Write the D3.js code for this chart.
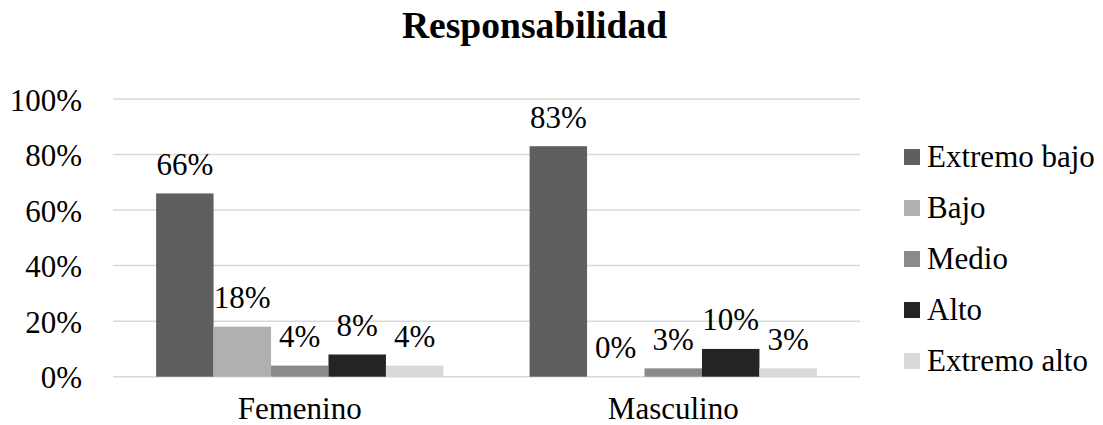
<!DOCTYPE html>
<html><head><meta charset="utf-8">
<script src="https://cdn.jsdelivr.net/npm/d3@7"></script>
<style>body{margin:0;background:#fff}svg{display:block}</style>
</head><body><svg id="c" width="1103" height="425" font-family="'Liberation Serif', 'Times New Roman', Tinos, serif"></svg>
<script>
const categories = ["Femenino", "Masculino"];
const seriesNames = ["Extremo bajo", "Bajo", "Medio", "Alto", "Extremo alto"];
const extremoBajo = [66, 83];
const bajo = [18, 0];
const medio = [4, 3];
const alto = [8, 10];
const extremoAlto = [4, 3];
const seriesColors = ["#5f5f5f", "#b0b0b0", "#8a8a8a", "#242424", "#d9d9d9"];
const yTicks = [0, 20, 40, 60, 80, 100];
const title = "Responsabilidad";

const seriesValues = [extremoBajo, bajo, medio, alto, extremoAlto];
const svg = d3.select("#c");
const m = {left: 113, right: 860, top: 99, bottom: 376.7};

const x0 = d3.scaleBand().domain(categories).range([m.left, m.right]).padding(0);
const barW = x0.bandwidth() / 6.5;
const x1 = d3.scaleBand().domain(seriesNames).range([0.75 * barW, 5.75 * barW]).padding(0);
const y = d3.scaleLinear().domain([0, 100]).range([m.bottom, m.top]);

svg.append("text").attr("x", 534.5).attr("y", 38).attr("text-anchor", "middle")
  .style("font-size", "37.6px").style("font-weight", "bold").attr("fill", "#000").text(title);

// gridlines
svg.append("g").selectAll("line").data(yTicks).join("line")
  .attr("x1", m.left).attr("x2", m.right)
  .attr("y1", d => y(d)).attr("y2", d => y(d))
  .attr("stroke", "#d9d9d9").attr("stroke-width", 1.5);

// y axis labels
svg.append("g").selectAll("text").data(yTicks).join("text")
  .attr("x", 82).attr("y", d => y(d) + 11.5).attr("text-anchor", "end")
  .style("font-size", "31px").text(d => d + "%");

// bars + value labels
const groups = svg.append("g").selectAll("g").data(categories).join("g")
  .attr("transform", c => `translate(${x0(c)},0)`);
groups.each(function(c, ci) {
  const g = d3.select(this);
  const data = seriesNames.map((s, si) => ({s, si, v: seriesValues[si][ci]}));
  g.selectAll("rect").data(data).join("rect")
    .attr("x", d => x1(d.s)).attr("width", x1.bandwidth())
    .attr("y", d => y(d.v)).attr("height", d => y(0) - y(d.v))
    .attr("fill", d => seriesColors[d.si]);
  g.selectAll("text").data(data).join("text")
    .attr("x", d => x1(d.s) + x1.bandwidth() / 2).attr("y", d => y(d.v) - 18.5)
    .attr("text-anchor", "middle").style("font-size", "31px").text(d => d.v + "%");
});

// category labels
svg.append("g").selectAll("text").data(categories).join("text")
  .attr("x", d => x0(d) + x0.bandwidth() / 2).attr("y", 419).attr("text-anchor", "middle")
  .style("font-size", "31px").text(d => d);

// legend
const lg = svg.append("g").selectAll("g").data(seriesNames).join("g")
  .attr("transform", (d, i) => `translate(904,${157 + i * 51})`);
lg.append("rect").attr("x", 0).attr("y", -8).attr("width", 16).attr("height", 16)
  .attr("fill", (d, i) => seriesColors[i]);
lg.append("text").attr("x", 23).attr("y", 10).style("font-size", "31px").text(d => d);
</script></body></html>
